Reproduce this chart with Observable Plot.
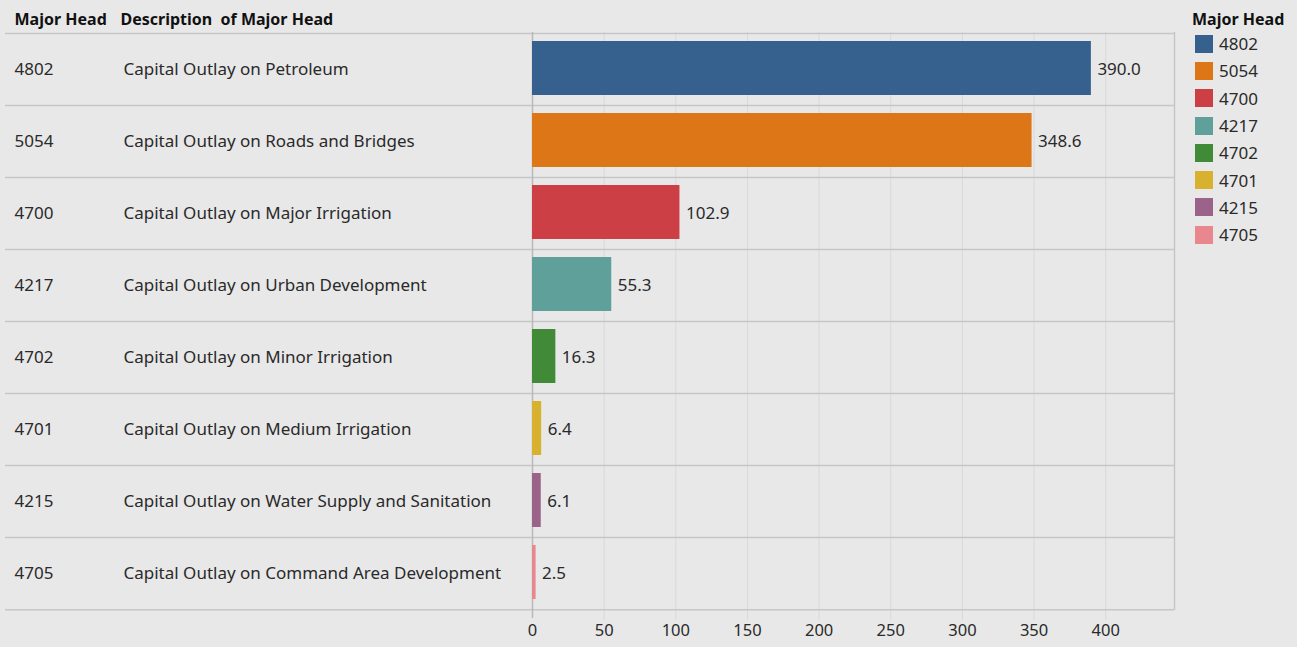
<!DOCTYPE html>
<html><head><meta charset="utf-8">
<script src="https://cdn.jsdelivr.net/npm/d3@7"></script>
<script src="https://cdn.jsdelivr.net/npm/@observablehq/plot@0.6"></script>
<style>
html,body{margin:0;padding:0;background:#e8e8e8;}
#wrap{position:relative;width:1297px;height:647px;font-family:"Noto Sans",sans-serif;color:#2a2a2a;overflow:hidden;}
#legend{position:absolute;left:1192px;top:8px;font-size:17px;}
#legend .title{font-weight:bold;color:#111;font-size:16px;height:22px;line-height:22px;}
#legend .item{display:flex;align-items:center;height:27.3px;}
#legend .sw{width:18px;height:18px;margin-left:3px;margin-right:6px;}
</style></head><body><div id="wrap"></div>
<script>
const codes = ["4802","5054","4700","4217","4702","4701","4215","4705"];
const descriptions = [
  "Capital Outlay on Petroleum",
  "Capital Outlay on Roads and Bridges",
  "Capital Outlay on Major Irrigation",
  "Capital Outlay on Urban Development",
  "Capital Outlay on Minor Irrigation",
  "Capital Outlay on Medium Irrigation",
  "Capital Outlay on Water Supply and Sanitation",
  "Capital Outlay on Command Area Development"
];
const values = [390.0, 348.6, 102.9, 55.3, 16.3, 6.4, 6.1, 2.5];
const colors = ["#36618f","#dd7616","#cb3f45","#60a09a","#418a38","#d8b22f","#9b628a","#e9878f"];
const xTicks = [0,50,100,150,200,250,300,350,400];
const headerCode = "Major Head";
const headerDesc = "Description\u00a0 of Major Head";
const legendTitle = "Major Head";

const data = codes.map((c, i) => ({code: c, desc: descriptions[i], value: values[i]}));

const W = 1297, H = 647, mL = 532, mR = 123, mT = 32, mB = 37;
const step = (H - mT - mB) / codes.length;

const chart = Plot.plot({
  width: W, height: H,
  marginLeft: mL, marginRight: mR, marginTop: mT, marginBottom: mB,
  style: {background: "transparent", fontFamily: "'Noto Sans', sans-serif", fontSize: "16.5px", color: "#2a2a2a", overflow: "visible"},
  x: {domain: [0, 448], ticks: xTicks, tickSize: 0, tickPadding: 14, label: null, tickFormat: d => String(d)},
  y: {domain: codes, paddingInner: 0.25, paddingOuter: 0.125, axis: null},
  color: {domain: codes, range: colors},
  marks: [
    Plot.ruleX(xTicks.slice(1), {stroke: "#d9d9d9", strokeWidth: 1, insetBottom: -10}),
    Plot.ruleY(codes, {y: d => d, dy: -step / 2, insetLeft: -(mL - 5), stroke: "#c6c6c6", strokeWidth: 1.5}),
    Plot.ruleY(codes.slice(-1), {y: d => d, dy: step / 2, insetLeft: -(mL - 5), stroke: "#c6c6c6", strokeWidth: 1.5}),
    Plot.ruleX([0], {stroke: "#b8b8b8", strokeWidth: 1.5, insetBottom: -8}),
    Plot.ruleX([448], {stroke: "#c6c6c6", strokeWidth: 1.5}),
    Plot.barX(data, {y: "code", x: "value", fill: "code", dy: -1}),
    Plot.text(data, {y: "code", x: "value", text: d => d.value.toFixed(1), textAnchor: "start", dx: 6, fill: "#2a2a2a", fontSize: 17}),
    Plot.text(data, {y: "code", text: "code", frameAnchor: "left", textAnchor: "start", dx: -(mL - 14), fill: "#2a2a2a", fontSize: 17}),
    Plot.text(data, {y: "code", text: "desc", frameAnchor: "left", textAnchor: "start", dx: -(mL - 123), fill: "#2a2a2a", fontSize: 17}),
    Plot.text([headerCode], {text: d => d, frameAnchor: "top-left", lineAnchor: "middle", textAnchor: "start", dx: -(mL - 14), dy: -13, fontWeight: "bold", fill: "#111", fontSize: 16}),
    Plot.text([headerDesc], {text: d => d, frameAnchor: "top-left", lineAnchor: "middle", textAnchor: "start", dx: -(mL - 120), dy: -13, fontWeight: "bold", fill: "#111", fontSize: 16})
  ]
});

const wrap = document.getElementById("wrap");
wrap.appendChild(chart);

const legend = document.createElement("div");
legend.id = "legend";
const t = document.createElement("div");
t.className = "title";
t.textContent = legendTitle;
legend.appendChild(t);
const cscale = chart.scale("color");
codes.forEach(c => {
  const item = document.createElement("div");
  item.className = "item";
  const sw = document.createElement("div");
  sw.className = "sw";
  sw.style.background = cscale.apply(c);
  const lab = document.createElement("span");
  lab.textContent = c;
  item.appendChild(sw);
  item.appendChild(lab);
  legend.appendChild(item);
});
wrap.appendChild(legend);
</script>
</body></html>
